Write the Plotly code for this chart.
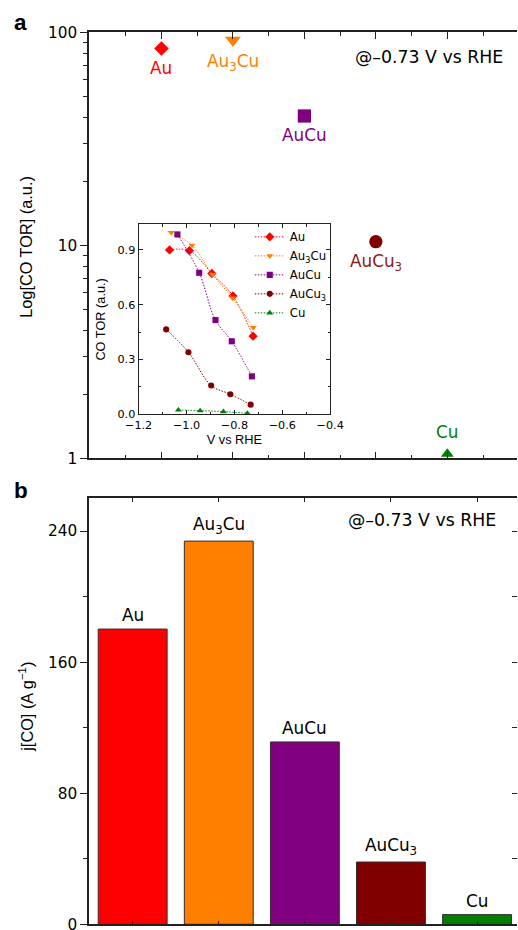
import numpy as np
import plotly.graph_objects as go

# ---------------- data ----------------
materials = ["Au", "Au<sub>3</sub>Cu", "AuCu", "AuCu<sub>3</sub>", "Cu"]
colors = ["#FF0000", "#FF8000", "#800080", "#800000", "#008000"]
label_colors = ["#FF0000", "#FF8000", "#800080", "#8B1A1A", "#008000"]
symbols_main = ["diamond", "triangle-down", "square", "circle", "triangle-up"]

tor_at_073 = [84, 92, 40.5, 10.4, 1.05]          # Log[CO TOR] panel a
jco_at_073 = [180.2, 233.9, 111.3, 38.0, 5.9]     # j[CO] panel b

# inset: CO TOR vs potential
v_au = [-1.071, -0.988, -0.894, -0.806, -0.722]
tor_au = [0.900, 0.896, 0.771, 0.648, 0.428]
v_au3cu = [-1.064, -0.977, -0.891, -0.808, -0.721]
tor_au3cu = [0.995, 0.925, 0.765, 0.637, 0.475]
v_aucu = [-1.038, -0.947, -0.879, -0.811, -0.727]
tor_aucu = [0.985, 0.775, 0.516, 0.400, 0.208]
v_aucu3 = [-1.085, -0.992, -0.897, -0.817, -0.732]
tor_aucu3 = [0.465, 0.340, 0.158, 0.110, 0.053]
v_cu = [-1.034, -0.943, -0.846, -0.746]
tor_cu = [0.024, 0.020, 0.015, 0.006]

inset_v = [v_au, v_au3cu, v_aucu, v_aucu3, v_cu]
inset_tor = [tor_au, tor_au3cu, tor_aucu, tor_aucu3, tor_cu]

positions_a = [1, 2, 3, 4, 5]
positions_b = [1, 2, 3, 4, 5]

# ---------------- geometry helpers (target pixel -> page pixel) ----------------
SX, OX = 0.975, 0.5
SY, OY = 0.981, 7.6
W, H = 531, 941
K = 1.02  # size compensation

def pgx(rx):
    return (rx - OX) / SX

def pgy(ry):
    return (ry - OY) / SY

L = pgx(87)

def px_x(rx):
    return (pgx(rx) - L) / (W - L)

def px_y(ry):
    return (H - pgy(ry)) / H

def axis_range(v1, r1, v2, r2):
    p1, p2 = pgx(r1), pgx(r2)
    slope = (v2 - v1) / (p2 - p1)
    return [v1 + (L - p1) * slope, v1 + (W - p1) * slope]

ARIAL = "Liberation Sans, Arial, Helvetica, sans-serif"
DEJA = "DejaVu Sans, Verdana, sans-serif"

def fs(v):
    return v * K

fig = go.Figure()

# ---- panel a markers ----
sizes_main = [11, 13.5, 13, 13, 11]
for i in range(5):
    fig.add_trace(go.Scatter(
        x=[positions_a[i]], y=[tor_at_073[i]], mode="markers",
        marker=dict(symbol=symbols_main[i], size=sizes_main[i] * K, color=colors[i],
                    line=dict(width=0)),
        xaxis="x", yaxis="y", showlegend=False, cliponaxis=False, hoverinfo="skip"))

# ---- inset ----
for i in range(5):
    fig.add_trace(go.Scatter(
        x=inset_v[i], y=inset_tor[i], mode="lines+markers", name=materials[i],
        line=dict(color=colors[i], width=1, dash="1.5px,1.5px", shape="spline"),
        marker=dict(symbol=symbols_main[i], size=(7 if i == 0 else 6) * K, color=colors[i]),
        xaxis="x3", yaxis="y3", showlegend=True, cliponaxis=False, hoverinfo="skip"))

# ---- panel b bars ----
fig.add_trace(go.Bar(
    x=positions_b, y=jco_at_073, width=0.8,
    marker=dict(color=colors, line=dict(color="#3a2a2a", width=1)),
    xaxis="x2", yaxis="y2", showlegend=False, hoverinfo="skip"))
fig.add_trace(go.Scatter(x=[1], y=[0], mode="markers", marker=dict(opacity=0),
                         xaxis="x2", yaxis="y4", showlegend=False, hoverinfo="skip"))

annotations = []
label_shift = [-7, -9, -7, -7, 10]
for i in range(5):
    annotations.append(dict(x=positions_a[i], y=np.log10(tor_at_073[i]), xref="x", yref="y",
                            text=materials[i], showarrow=False,
                            yanchor="top" if i < 4 else "bottom",
                            yshift=label_shift[i],
                            font=dict(family=DEJA, size=fs(16.5), color=label_colors[i])))
for i in range(5):
    annotations.append(dict(x=positions_b[i], y=jco_at_073[i], xref="x2", yref="y2",
                            text=materials[i], showarrow=False, yanchor="bottom", yshift=2,
                            font=dict(family=DEJA, size=fs(16.5), color="black")))

annotations.append(dict(x=px_x(506), y=px_y(56), xref="paper", yref="paper",
                        text="@\u20130.73 V vs RHE", showarrow=False, xanchor="right",
                        yanchor="middle", font=dict(family=DEJA, size=fs(17), color="black")))
annotations.append(dict(x=px_x(499), y=px_y(519), xref="paper", yref="paper",
                        text="@\u20130.73 V vs RHE", showarrow=False, xanchor="right",
                        yanchor="middle", font=dict(family=DEJA, size=fs(17), color="black")))
annotations.append(dict(x=px_x(24), y=px_y(245), xref="paper", yref="paper",
                        text="Log[CO TOR] (a.u.)", showarrow=False, textangle=-90,
                        xanchor="center", yanchor="middle",
                        font=dict(family=ARIAL, size=fs(16), color="black")))
annotations.append(dict(x=px_x(24), y=px_y(705), xref="paper", yref="paper",
                        text="j[CO] (A g<sup>\u22121</sup>)", showarrow=False, textangle=-90,
                        xanchor="center", yanchor="middle",
                        font=dict(family=ARIAL, size=fs(16), color="black")))
annotations.append(dict(x=px_x(18), y=px_y(21), xref="paper", yref="paper", text="<b>a</b>",
                        showarrow=False, xanchor="center", yanchor="middle",
                        font=dict(family=ARIAL, size=fs(22), color="black")))
annotations.append(dict(x=px_x(18), y=px_y(489), xref="paper", yref="paper", text="<b>b</b>",
                        showarrow=False, xanchor="center", yanchor="middle",
                        font=dict(family=ARIAL, size=fs(22), color="black")))

axcol = "#222222"
tickfont = dict(family=DEJA, size=fs(15), color="black")
inset_tick = dict(family=DEJA, size=fs(11), color="black")
inset_title = dict(family=ARIAL, size=fs(12.5), color="black")
legend_font = dict(family=DEJA, size=fs(11.5), color="black")

log_minor = [m * 10 ** d for d in range(0, 2) for m in range(2, 10)]

ix0, ix1 = px_x(137), px_x(330)

fig.update_layout(
    width=W, height=H,
    margin=dict(l=L, r=0, t=0, b=0),
    paper_bgcolor="white", plot_bgcolor="rgba(0,0,0,0)",
    annotations=annotations,
    xaxis=dict(domain=[0, 1], anchor="y", range=axis_range(1, 160, 5, 448),
               showgrid=False, zeroline=False,
               showline=True, linecolor=axcol, linewidth=1.5, mirror="ticks",
               ticks="inside", ticklen=7, tickwidth=1.2, tickcolor=axcol,
               tickvals=[0, 1, 2, 3, 4, 5, 6], showticklabels=False,
               minor=dict(ticks="inside", ticklen=4, tickwidth=1, tickcolor=axcol,
                          tickvals=[0.5, 1.5, 2.5, 3.5, 4.5, 5.5])),
    yaxis=dict(domain=[px_y(457), px_y(31)], anchor="x", type="log", range=[0, 2],
               showgrid=False, zeroline=False, showline=True, linecolor=axcol, linewidth=1.5,
               ticks="outside", ticklen=7, tickwidth=1.2, tickcolor=axcol,
               tickvals=[1, 10, 100], ticktext=["1", "10", "100"], tickfont=tickfont,
               minor=dict(ticks="outside", ticklen=4, tickwidth=1, tickcolor=axcol,
                          tickvals=log_minor)),
    xaxis2=dict(domain=[0, 1], anchor="y2", range=axis_range(1, 131, 5, 478),
                showgrid=False, zeroline=False,
                showline=True, linecolor=axcol, linewidth=1.5, mirror="ticks",
                ticks="inside", ticklen=4, tickwidth=1, tickcolor=axcol,
                tickvals=positions_b, showticklabels=False),
    yaxis2=dict(domain=[px_y(923), px_y(497)], anchor="x2", range=[0, 260],
                showgrid=False, zeroline=False, showline=True, linecolor=axcol, linewidth=1.5,
                ticks="outside", ticklen=7, tickwidth=1.2, tickcolor=axcol,
                tickvals=[0, 80, 160, 240], tickfont=tickfont,
                minor=dict(ticks="outside", ticklen=4, tickwidth=1, tickcolor=axcol,
                           tickvals=[40, 120, 200])),
    yaxis4=dict(overlaying="y2", side="right", anchor="x2", range=[0, 260], showgrid=False,
                zeroline=False, showline=False, ticks="inside", ticklen=5, tickwidth=1,
                tickcolor=axcol, tickvals=[0, 40, 80, 120, 160, 200, 240],
                showticklabels=False),
    xaxis3=dict(domain=[ix0, ix1], anchor="y3", range=[-1.2, -0.4],
                showgrid=False, zeroline=False, showline=True, linecolor=axcol, linewidth=1.2,
                mirror="ticks", ticks="inside", ticklen=4, tickwidth=1, tickcolor=axcol,
                tickvals=[-1.2, -1.0, -0.8, -0.6, -0.4], tickformat=".1f",
                tickfont=inset_tick,
                minor=dict(ticks="inside", ticklen=2.5, tickwidth=1, tickcolor=axcol,
                           tickvals=[-1.1, -0.9, -0.7, -0.5]),
                title=dict(text="V vs RHE", font=inset_title, standoff=3)),
    yaxis3=dict(domain=[px_y(413), px_y(223)], anchor="x3", range=[0, 1.04],
                showgrid=False, zeroline=False, showline=True, linecolor=axcol, linewidth=1.2,
                mirror="ticks", ticks="inside", ticklen=4, tickwidth=1, tickcolor=axcol,
                tickvals=[0, 0.3, 0.6, 0.9], tickformat=".1f", tickfont=inset_tick,
                minor=dict(ticks="inside", ticklen=2.5, tickwidth=1, tickcolor=axcol,
                           tickvals=[0.15, 0.45, 0.75]),
                title=dict(text="CO TOR (a.u.)", font=inset_title, standoff=8)),
    legend=dict(x=px_x(249), y=px_y(221), xanchor="left", yanchor="top",
                bgcolor="rgba(0,0,0,0)", borderwidth=0, font=legend_font,
                itemwidth=30, tracegroupgap=0),
)

post = (
    "var st=document.createElement('style');"
    "st.textContent='html,body{margin:0 !important;padding:0 !important;overflow:hidden !important;}"
    ".plotly-graph-div{position:fixed !important;left:0 !important;top:0 !important;}';"
    "document.head.appendChild(st);"
)
fig.write_html("out.html", config={"displayModeBar": False}, post_script=post)
